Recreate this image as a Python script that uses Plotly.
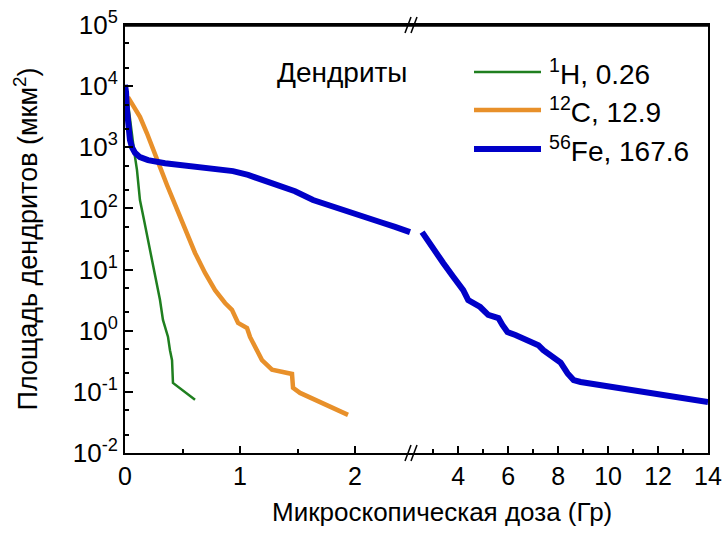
import plotly.graph_objects as go

# ---- data ----
h_dose = [0.017, 0.043, 0.078, 0.104, 0.130, 0.165, 0.200, 0.235, 0.261, 0.304, 0.330, 0.374, 0.391, 0.409, 0.417, 0.513, 0.609]
h_area = [7170, 2790, 903, 427, 137, 65, 30, 14.3, 7.5, 3.2, 1.5, 0.79, 0.48, 0.33, 0.14, 0.103, 0.074]

c_dose = [0.026, 0.078, 0.13, 0.19, 0.243, 0.304, 0.365, 0.417, 0.478, 0.539, 0.609, 0.696, 0.783, 0.870,
          0.930, 0.983, 1.061, 1.087, 1.130, 1.191, 1.278, 1.374, 1.452, 1.461, 1.522, 1.939]
c_area = [6640, 4570, 3150, 1710, 903, 478, 242, 137, 72, 40, 18.7, 8.8, 4.6, 2.84,
          2.19, 1.34, 1.11, 0.79, 0.54, 0.33, 0.23, 0.21, 0.196, 0.116, 0.096, 0.042]

fe_dose_lo = [0.0, 0.009, 0.017, 0.026, 0.043, 0.061, 0.087, 0.13, 0.2, 0.348, 0.496, 0.652, 0.783, 0.939,
              1.07, 1.243, 1.348, 1.478, 1.635, 1.783, 1.93, 2.087, 2.217, 2.348, 2.478]
fe_area_lo = [10500, 8000, 4070, 2150, 1320, 1000, 810, 690, 616, 550, 513, 492, 458, 408,
              353, 271, 240, 191, 137, 110, 87, 72, 60, 50, 41]

fe_dose_hi = [2.554, 3.0, 3.40, 3.80, 4.20, 4.40, 4.56, 4.88, 5.20, 5.61, 5.77, 5.97, 6.29, 6.77,
              7.21, 7.41, 7.69, 8.10, 8.38, 8.62, 8.90, 11.31, 14.0]
fe_area_hi = [41, 23.3, 12.8, 7.6, 4.6, 3.17, 2.84, 2.44, 1.81, 1.61, 1.24, 0.95, 0.85, 0.70,
              0.58, 0.48, 0.40, 0.30, 0.20, 0.156, 0.145, 0.099, 0.068]

series_names = ["<sup>1</sup>H, 0.26", "<sup>12</sup>C, 12.9", "<sup>56</sup>Fe, 167.6"]

y_tickvals = [1e-2, 1e-1, 1, 10, 100, 1e3, 1e4, 1e5]
y_ticktext = ["10<sup>-2</sup>", "10<sup>-1</sup>", "10<sup>0</sup>", "10<sup>1</sup>",
              "10<sup>2</sup>", "10<sup>3</sup>", "10<sup>4</sup>", "10<sup>5</sup>"]
x_left_ticks = [0, 1, 2]
x_right_ticks = [4, 6, 8, 10, 12, 14]

GREEN = "#1f7f1f"
ORANGE = "#e8902a"
BLUE = "#0000c8"
COLORS = [GREEN, ORANGE, BLUE]
WIDTHS = [2.5, 4.5, 6]
FONT = "Liberation Sans, Arial, sans-serif"

fig = go.Figure()
fig.add_trace(go.Scatter(x=h_dose, y=h_area, mode="lines", line=dict(color=GREEN, width=WIDTHS[0]),
                         name=series_names[0], xaxis="x", yaxis="y"))
fig.add_trace(go.Scatter(x=c_dose, y=c_area, mode="lines", line=dict(color=ORANGE, width=WIDTHS[1]),
                         name=series_names[1], xaxis="x", yaxis="y"))
fig.add_trace(go.Scatter(x=fe_dose_lo, y=fe_area_lo, mode="lines", line=dict(color=BLUE, width=WIDTHS[2]),
                         name=series_names[2], xaxis="x", yaxis="y"))
fig.add_trace(go.Scatter(x=fe_dose_hi, y=fe_area_hi, mode="lines", line=dict(color=BLUE, width=WIDTHS[2]),
                         name=series_names[2], xaxis="x2", yaxis="y2"))

PW, PH = 583, 428  # plot area size in px
split = (413 - 125) / PW
YR = [-2.0005, 5.0005]


def px(xp):
    return (xp - 125) / PW


def py(yp):
    return 1 - (yp - 25) / PH


common_x = dict(showline=True, linecolor="black", linewidth=2, mirror=True, ticks="inside",
                ticklen=7, tickwidth=2, tickcolor="black", showgrid=False, zeroline=False,
                automargin=False,
                tickfont=dict(size=25, color="black", family=FONT))

annotations = [
    dict(text="Дендриты", x=px(342), y=py(72), xref="paper", yref="paper", xanchor="center",
         yanchor="middle", showarrow=False, font=dict(size=28, color="black")),
    dict(text="Микроскопическая доза (Гр)", x=px(442), y=py(512), xref="paper", yref="paper",
         xanchor="center", yanchor="middle", showarrow=False, font=dict(size=26, color="black")),
]
shapes = []
# legend (drawn by hand to match the long line samples)
for i, yy in enumerate([72, 110, 149]):
    shapes.append(dict(type="line", xref="paper", yref="paper", x0=px(474), x1=px(541),
                       y0=py(yy), y1=py(yy), line=dict(color=COLORS[i], width=WIDTHS[i])))
    annotations.append(dict(text=series_names[i], x=px(547), y=py(yy), xref="paper", yref="paper",
                            xanchor="left", yanchor="middle", showarrow=False,
                            font=dict(size=28, color="black")))

# frame top line and axis break marks
shapes.append(dict(type="line", xref="paper", yref="paper", x0=0, x1=1, y0=py(25.5), y1=py(25.5),
                   line=dict(color="black", width=2.5), layer="above"))
for ypx in (25, 453):
    yp = py(ypx)
    for dx in (-5, 1):
        shapes.append(dict(type="line", xref="paper", yref="paper",
                           x0=split + (dx - 3) / PW, x1=split + (dx + 3) / PW,
                           y0=yp - 8 / PH, y1=yp + 8 / PH, line=dict(color="black", width=1.5)))

fig.update_layout(
    width=724, height=544,
    margin=dict(l=125, r=16, t=25, b=91, autoexpand=False),
    paper_bgcolor="white", plot_bgcolor="white",
    font=dict(family=FONT, color="black"),
    showlegend=False,
    xaxis=dict(domain=[0, split], range=[0, 2.504], tickvals=x_left_ticks, anchor="y",
               minor=dict(ticks="inside", ticklen=4, tickwidth=2, tickcolor="black", dtick=0.5),
               **common_x),
    xaxis2=dict(domain=[split, 1], range=[2.19, 14.0], tickvals=x_right_ticks, anchor="y2",
                minor=dict(ticks="inside", ticklen=4, tickwidth=2, tickcolor="black", dtick=1),
                **common_x),
    yaxis=dict(type="log", range=YR, anchor="x", tickvals=y_tickvals, ticktext=y_ticktext,
               showline=True, linecolor="black", linewidth=2, ticks="inside", ticklen=8, tickwidth=2,
               tickcolor="black", showgrid=False, zeroline=False, automargin=False,
               minor=dict(ticks="inside", ticklen=4, tickwidth=1.5, tickcolor="black", showgrid=False),
               tickfont=dict(size=26, color="black", family=FONT),
               title=dict(text="Площадь дендритов (мкм<sup>2</sup>)", font=dict(size=27, color="black"),
                          standoff=27)),
    yaxis2=dict(type="log", range=YR, anchor="x2", side="right",
                showline=True, linecolor="black", linewidth=2, ticks="", showticklabels=False,
                showgrid=False, zeroline=False, automargin=False),
    annotations=annotations,
    shapes=shapes,
)

fig.write_html("out.html", config={"displayModeBar": False},
               post_script="document.body.style.margin='0';document.body.style.padding='0';")
